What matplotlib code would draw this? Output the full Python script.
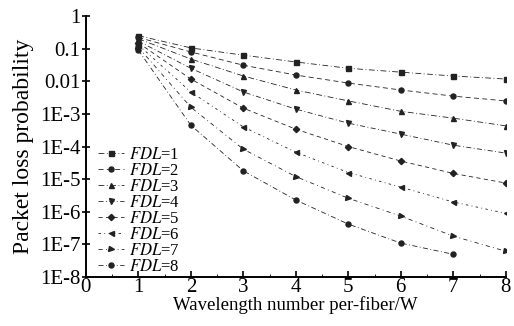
import numpy as np
import matplotlib.pyplot as plt
from matplotlib.ticker import FixedLocator, FixedFormatter, LogLocator, MultipleLocator

plt.rcParams['font.family'] = 'Liberation Serif'
plt.rcParams['mathtext.fontset'] = 'stix'

# wavelength number per fiber
W = [1, 2, 3, 4, 5, 6, 7, 8]

# packet loss probability, one list per FDL count
fdl1 = [0.25, 0.105, 0.063, 0.039, 0.025, 0.019, 0.0145, 0.0117]
fdl2 = [0.22, 0.079, 0.031, 0.0155, 0.0088, 0.0054, 0.0035, 0.0025]
fdl3 = [0.20, 0.048, 0.0145, 0.0054, 0.0025, 0.0012, 7.4e-4, 4.3e-4]
fdl4 = [0.17, 0.025, 0.0047, 0.0014, 5.2e-4, 2.4e-4, 1.1e-4, 6.3e-5]
fdl5 = [0.15, 0.0117, 1.5e-3, 3.4e-4, 1.0e-4, 3.6e-5, 1.5e-5, 7.6e-6]
fdl6 = [0.13, 0.0047, 4.0e-4, 6.7e-5, 1.6e-5, 5.7e-6, 2.0e-6, 9.0e-7]
fdl7 = [0.11, 1.6e-3, 8.3e-5, 1.2e-5, 2.6e-6, 7.4e-7, 1.8e-7, 6.2e-8]
fdl8 = [0.09, 4.5e-4, 1.8e-5, 2.3e-6, 4.2e-7, 1.1e-7, 5.0e-8]

series = [fdl1, fdl2, fdl3, fdl4, fdl5, fdl6, fdl7, fdl8]
labels = [r'$FDL$=%d' % (i + 1) for i in range(8)]
markers = ['s', 'o', '^', 'v', 'D', '<', '>', 'o']
dashes = [(7, 3, 1, 3), (6, 4), (7, 3, 1, 3), (6, 3, 1, 3),
          (5, 4), (3, 4, 1, 4), (5, 4, 1, 4), (6, 3, 1, 3)]

ytick_vals = [1, 0.1, 0.01, 1e-3, 1e-4, 1e-5, 1e-6, 1e-7, 1e-8]
ytick_text = ['1', '0.1', '0.01', '1E-3', '1E-4', '1E-5', '1E-6', '1E-7', '1E-8']

fig = plt.figure(figsize=(5.14, 3.26), dpi=100)
ax = fig.add_axes([0.167, 0.150, 0.817, 0.801])

for vals, lab, m, d in zip(series, labels, markers, dashes):
    ax.plot(W[:len(vals)], vals, color='#222222', lw=0.6, dashes=d,
            marker=m, markersize=3.6 if m != 'D' else 3.2, label=lab)

ax.set_yscale('log')
ax.set_xlim(0, 8)
ax.set_ylim(1e-8, 1)
ax.yaxis.set_major_locator(FixedLocator(ytick_vals))
ax.yaxis.set_major_formatter(FixedFormatter(ytick_text))
ax.yaxis.set_minor_locator(LogLocator(base=10, subs=np.arange(2, 10)))
ax.xaxis.set_major_locator(MultipleLocator(1))
ax.xaxis.set_minor_locator(MultipleLocator(0.5))

for side in ['top', 'right']:
    ax.spines[side].set_visible(False)
for side in ['left', 'bottom']:
    ax.spines[side].set_linewidth(1.4)

ax.tick_params(axis='both', which='major', labelsize=15, width=1.2, pad=1)
ax.tick_params(axis='x', which='both', direction='in')
ax.tick_params(axis='y', which='major', direction='inout', length=6)
ax.tick_params(axis='y', which='minor', direction='in', length=2)
ax.tick_params(axis='x', which='major', length=4)
ax.tick_params(axis='x', which='minor', length=2)

ax.set_xlabel('Wavelength number per-fiber/W', fontsize=13.5, labelpad=-1)
ax.set_ylabel('Packet loss probability', fontsize=17, labelpad=4)

ax.legend(loc='lower left', bbox_to_anchor=(0.0, -0.035), frameon=False,
          fontsize=12, handlelength=1.6, handletextpad=0.3, labelspacing=0.0,
          borderaxespad=0.3)

plt.savefig('out.png', dpi=100)
